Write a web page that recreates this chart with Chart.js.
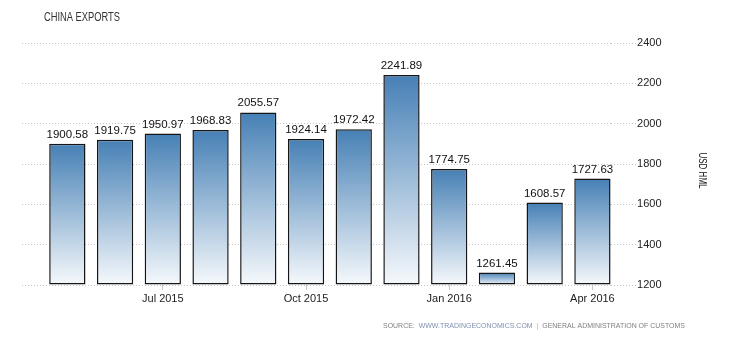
<!DOCTYPE html>
<html>
<head>
<meta charset="utf-8">
<script src="https://cdn.jsdelivr.net/npm/chart.js@4/dist/chart.umd.min.js"></script>
<style>
  html, body { margin: 0; padding: 0; background: #fff; }
  #wrap { width: 730px; height: 340px; position: relative; }
</style>
</head>
<body>
<div id="wrap"><canvas id="c" width="730" height="340"></canvas></div>
<script>
const titleText = 'CHINA EXPORTS';
const unitLabel = 'USD HML';
const months = ['May 2015','Jun 2015','Jul 2015','Aug 2015','Sep 2015','Oct 2015','Nov 2015','Dec 2015','Jan 2016','Feb 2016','Mar 2016','Apr 2016'];
const exportsValues = [1900.58, 1919.75, 1950.97, 1968.83, 2055.57, 1924.14, 1972.42, 2241.89, 1774.75, 1261.45, 1608.57, 1727.63];
const tickMonths = ['Jul 2015','Oct 2015','Jan 2016','Apr 2016'];
const yTicks = [1200, 1400, 1600, 1800, 2000, 2200, 2400];
const sourceParts = [
  ['SOURCE:  ', '#808080'],
  ['WWW.TRADINGECONOMICS.COM', '#7f90ad'],
  ['  |  ', '#9fb4cc'],
  ['GENERAL ADMINISTRATION OF CUSTOMS', '#808080']
];

const barGradient = (ctx) => {
  const chart = ctx.chart;
  const { chartArea, scales } = chart;
  if (!chartArea || ctx.type !== 'data' || !scales.y) return '#4a80b6';
  const yTop = scales.y.getPixelForValue(ctx.parsed ? ctx.parsed.y : ctx.raw.y);
  const yBot = scales.y.getPixelForValue(scales.y.min);
  const g = chart.ctx.createLinearGradient(0, yTop, 0, Math.max(yBot, yTop + 1));
  g.addColorStop(0, '#4680b5');
  g.addColorStop(1, '#f6f9fc');
  return g;
};

// draw text squeezed horizontally to a target width (narrow face)
function narrowText(c, text, x, y, targetWidth) {
  const w = c.measureText(text).width;
  const s = Math.min(1, targetWidth / w);
  c.save();
  c.translate(x, y);
  c.scale(s, 1);
  c.fillText(text, 0, 0);
  c.restore();
  return w * s;
}

const decorPlugin = {
  id: 'decor',
  afterDatasetsDraw(chart) {
    const c = chart.ctx;
    const meta = chart.getDatasetMeta(0);
    c.save();
    c.font = '11.5px "Liberation Sans", Arial, sans-serif';
    c.fillStyle = '#111';
    c.textAlign = 'center';
    c.textBaseline = 'alphabetic';
    meta.data.forEach((el, i) => {
      c.fillText(exportsValues[i].toFixed(2), el.x, el.y - 6);
    });
    c.restore();
  },
  afterDraw(chart) {
    const c = chart.ctx;
    c.save();
    // title
    c.font = '12px "Liberation Sans", Arial, sans-serif';
    c.fillStyle = '#333';
    c.textAlign = 'left';
    c.textBaseline = 'middle';
    narrowText(c, titleText, 44, 18, 76);
    // source line
    c.font = '8px "Liberation Sans", Arial, sans-serif';
    let total = 0;
    sourceParts.forEach(p => { total += c.measureText(p[0]).width; });
    const s = 302 / total;
    let x = 685 - total * s;
    sourceParts.forEach(p => {
      c.fillStyle = p[1];
      x += narrowText(c, p[0], x, 326, c.measureText(p[0]).width * s);
    });
    // unit label on right, rotated clockwise
    c.save();
    c.translate(702, 170);
    c.rotate(Math.PI / 2);
    c.font = '10px "Liberation Sans", Arial, sans-serif';
    c.fillStyle = '#111';
    c.textAlign = 'left';
    narrowText(c, unitLabel, -35 / 2, 0, 36);
    c.restore();
    c.restore();
  }
};

new Chart(document.getElementById('c'), {
  type: 'bar',
  data: {
    datasets: [{
      data: exportsValues.map((v, i) => ({ x: i, y: v })),
      backgroundColor: barGradient,
      borderColor: '#151515',
      borderWidth: 1.5,
      borderSkipped: false,
      categoryPercentage: 1,
      barPercentage: 0.76,
      base: yTicks[0],
      clip: false
    }]
  },
  options: {
    responsive: false,
    animation: false,
    devicePixelRatio: 1,
    layout: { padding: { left: 22, top: 43, right: 67.5, bottom: 32.8 } },
    plugins: { legend: { display: false }, tooltip: { enabled: false }, title: { display: false } },
    scales: {
      x: {
        type: 'linear',
        min: -0.95,
        max: 11.39,
        offset: false,
        afterBuildTicks: (scale) => {
          scale.ticks = months.map((m, i) => ({ value: i })).filter(t => tickMonths.includes(months[t.value]));
        },
        ticks: {
          autoSkip: false,
          maxRotation: 0,
          padding: 2,
          color: '#222',
          font: { family: '"Liberation Sans", Arial, sans-serif', size: 11 },
          callback: (v) => months[v] || ''
        },
        grid: { display: true, offset: false, drawOnChartArea: false, drawTicks: true, tickLength: 5, color: '#c8c8c8' },
        border: { display: false }
      },
      y: {
        position: 'right',
        min: 1200,
        max: 2400,
        afterBuildTicks: (scale) => { scale.ticks = yTicks.map(v => ({ value: v })); },
        ticks: {
          padding: 1,
          color: '#222',
          font: { family: '"Liberation Sans", Arial, sans-serif', size: 11 },
          callback: (v) => String(v)
        },
        grid: { color: '#c4c4c4', tickLength: 25, tickBorderDash: [1, 2], lineWidth: 1 },
        border: { display: false, dash: [1, 2] },
        title: { display: false }
      }
    }
  },
  plugins: [decorPlugin]
});
</script>
</body>
</html>
